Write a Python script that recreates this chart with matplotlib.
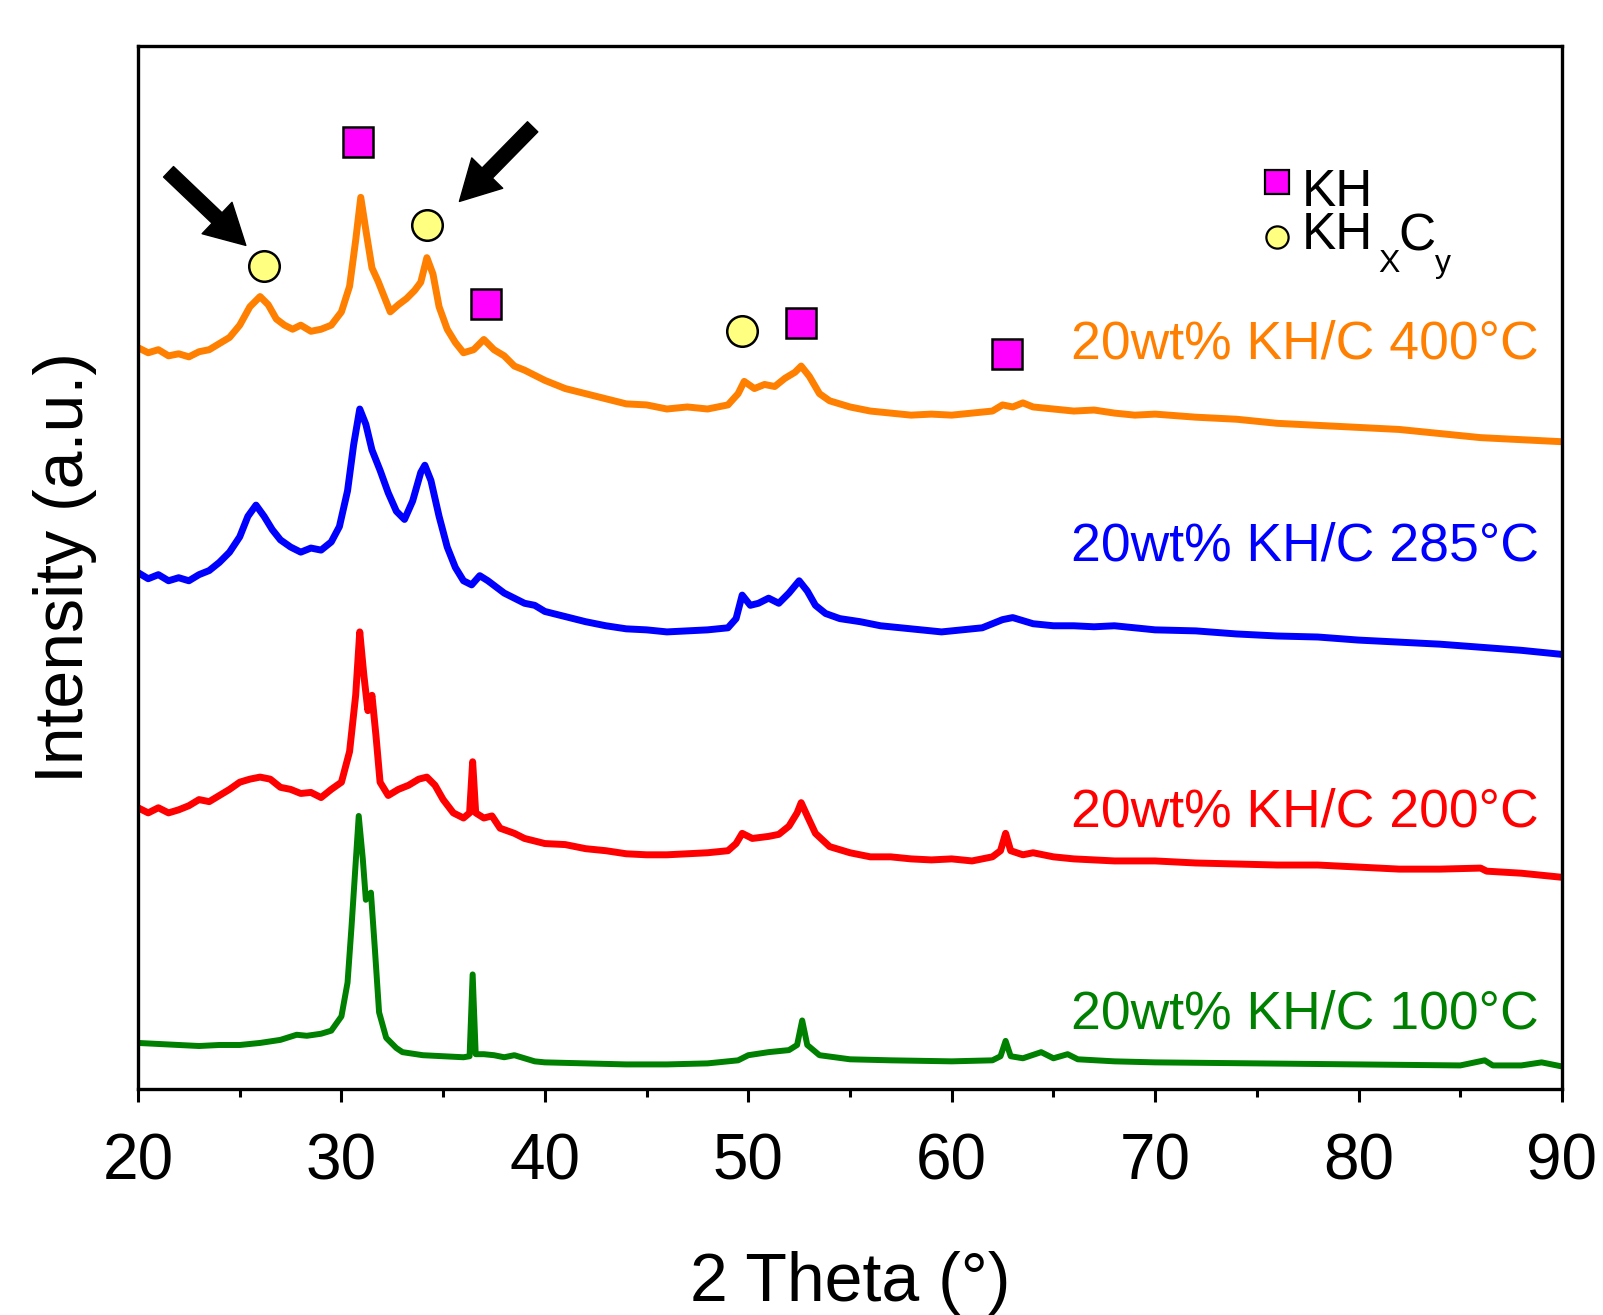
import matplotlib
matplotlib.use("Agg")
import matplotlib.pyplot as plt

plt.rcParams['font.family'] = ['Liberation Sans', 'DejaVu Sans']

# ---- data (2 Theta in degrees, intensity in arbitrary units incl. offset) ----
x_400 = [20, 20.5, 21, 21.5, 22, 22.5, 23, 23.5, 24, 24.5, 25, 25.5, 26.0, 26.4, 26.8, 27.2, 27.6, 28, 28.5, 29,
         29.5, 30, 30.4, 30.7, 30.95, 31.2, 31.5, 31.8, 32.1, 32.4, 32.8, 33.2, 33.6, 33.9, 34.2, 34.5, 34.8, 35.2,
         35.6, 36, 36.5, 37, 37.5, 38, 38.5, 39, 40, 41, 42, 43, 44, 45, 46, 47, 48, 49, 49.5, 49.8, 50.3, 50.8,
         51.3, 51.8, 52.3, 52.6, 53, 53.5, 54, 55, 56, 57, 58, 59, 60, 61, 62, 62.5, 63, 63.5, 64, 65, 66, 67, 68,
         69, 70, 72, 74, 76, 78, 80, 82, 84, 86, 88, 90]
y_400 = [725, 720, 723, 717, 719, 716, 721, 723, 729, 735, 747, 765, 775, 767, 753, 747, 743, 747, 741, 743,
         747, 760, 785, 830, 872, 840, 803, 790, 775, 760, 767, 773, 781, 789, 813, 797, 765, 743,
         730, 720, 723, 733, 723, 717, 707, 703, 693, 685, 680, 675, 670, 669, 665, 667, 665, 669, 680, 692, 685, 689,
         687, 695, 701, 707, 697, 680, 673, 667, 663, 661, 659, 660, 659, 661, 663, 669, 667, 671, 667, 665, 663, 664, 661,
         659, 660, 657, 655, 651, 649, 647, 645, 641, 637, 635, 633]

x_285 = [20, 20.5, 21, 21.5, 22, 22.5, 23, 23.5, 24, 24.5, 25, 25.4, 25.8, 26.2, 26.6, 27, 27.5, 28, 28.5, 29,
         29.5, 29.9, 30.3, 30.6, 30.9, 31.2, 31.5, 31.9, 32.3, 32.7, 33.1, 33.5, 33.9, 34.1, 34.4, 34.8, 35.2, 35.6,
         36, 36.4, 36.8, 37.2, 37.6, 38, 38.5, 39, 39.5, 40, 41, 42, 43, 44, 45, 46, 47, 48, 49, 49.4, 49.7, 50.1,
         50.5, 51, 51.5, 52, 52.5, 52.9, 53.3, 53.8, 54.5, 55.5, 56.5, 57.5, 58.5, 59.5, 60.5, 61.5, 62.5, 63, 64,
         65, 66, 67, 68, 69, 70, 72, 74, 76, 78, 80, 82, 84, 86, 88, 90]
y_285 = [505, 499, 503, 497, 500, 497, 503, 507, 515, 525, 540, 560, 571, 560, 547, 537, 530, 525, 529, 527,
         535, 550, 585, 630, 665, 650, 625, 605, 583, 565, 557, 575, 603, 610, 595, 560, 530, 510,
         497, 493, 502, 497, 491, 485, 480, 475, 473, 467, 462, 457, 453, 450, 449, 447, 448, 449, 451, 460, 483, 473,
         475, 480, 475, 485, 497, 487, 473, 465, 460, 457, 453, 451, 449, 447, 449, 451, 459, 461, 455,
         453, 453, 452, 453, 451, 449, 448, 445, 443, 442, 439, 437, 435, 432, 429, 425]

x_200 = [20, 20.5, 21, 21.5, 22, 22.5, 23, 23.5, 24, 24.5, 25, 25.5, 26, 26.5, 27, 27.5, 28, 28.5, 29, 29.5,
         30, 30.4, 30.7, 30.9, 31.1, 31.3, 31.5, 31.7, 31.9, 32.3, 32.8, 33.3, 33.8, 34.2, 34.6, 35, 35.5, 36,
         36.3, 36.45, 36.6, 37, 37.4, 37.8, 38.5, 39, 40, 41, 42, 43, 44, 45, 46, 47, 48, 49, 49.4, 49.7, 50.2,
         51, 51.5, 52, 52.4, 52.6, 52.9, 53.3, 54, 55, 56, 57, 58, 59, 60, 61, 62, 62.4, 62.65, 62.9, 63.5, 64,
         65, 66, 68, 70, 72, 74, 76, 78, 80, 82, 84, 86, 86.3, 88, 90]
y_200 = [275, 270, 275, 270, 273, 277, 283, 281, 287, 293, 300, 303, 305, 303, 295, 293, 289, 290, 285, 293,
         300, 330, 385, 447, 405, 370, 385, 345, 300, 287, 293, 297, 303, 305, 297, 283, 270, 265,
         270, 320, 270, 265, 267, 255, 250, 245, 240, 239, 235, 233, 230, 229, 229, 230, 231, 233, 240, 250, 245,
         247, 249, 257, 270, 280, 267, 250, 237, 231, 227, 227, 225, 224, 225, 223, 227, 233, 250, 233, 229, 231,
         227, 225, 223, 223, 221, 220, 219, 219, 217, 215, 215, 216, 213, 211, 207]

x_100 = [20, 21, 22, 23, 24, 25, 26, 27, 27.8, 28.3, 29, 29.5, 30.0, 30.3, 30.5, 30.85, 31.05, 31.2, 31.45,
         31.65, 31.85, 32.2, 32.7, 33, 34, 35, 36, 36.3, 36.45, 36.6, 37, 37.5, 38, 38.5, 39, 39.5, 40, 42, 44, 46,
         48, 49.5, 50, 51, 52, 52.4, 52.65, 52.9, 53.5, 55, 57, 60, 62, 62.4, 62.65, 62.9, 63.5, 64.4, 65, 65.7,
         66.2, 68, 70, 75, 80, 85, 86.2, 86.6, 88, 89, 90]
y_100 = [45, 44, 43, 42, 43, 43, 45, 48, 53, 52, 54, 57, 71, 104, 160, 267, 225, 185, 192,
         135, 75, 50, 40, 36, 33, 32, 31, 32, 112, 34, 34, 33, 31, 33, 30, 27, 26, 25, 24, 24,
         25, 28, 33, 36, 38, 43, 67, 43, 33, 29, 28, 27, 28, 32, 47, 32, 30, 36, 30, 34,
         29, 27, 26, 25, 24, 23, 28, 23, 23, 26, 22]

series_labels = ["20wt% KH/C 400°C", "20wt% KH/C 285°C", "20wt% KH/C 200°C", "20wt% KH/C 100°C"]
series_colors = ["#FF7F00", "#0000FF", "#FF0000", "#008000"]
label_y = [728, 531, 270, 73]

# phase markers
kh_x = [30.8, 37.1, 52.6, 62.7]
kh_y = [926, 768, 749, 719]
khxcy_x = [26.2, 34.2, 49.7]
khxcy_y = [805, 845, 741]

# arrows (tail -> head)
arrow_tails = [(21.5, 897), (39.4, 941)]
arrow_heads = [(25.3, 825), (35.8, 868)]

xticks = [20, 30, 40, 50, 60, 70, 80, 90]
minor_xticks = [25, 35, 45, 55, 65, 75, 85]

# ---- figure ----
fig = plt.figure(figsize=(16.03, 13.15), dpi=100)
ax = fig.add_axes([0.0861, 0.1719, 0.8883, 0.7931])

xs = [x_400, x_285, x_200, x_100]
ys = [y_400, y_285, y_200, y_100]
lws = [5.0, 5.0, 5.0, 4.3]
for xv, yv, c, lw in zip(xs, ys, series_colors, lws):
    ax.plot(xv, yv, color=c, lw=lw, solid_joinstyle='round')

for lab, c, yy in zip(series_labels, series_colors, label_y):
    ax.text(88.85, yy, lab, color=c, fontsize=38.5, ha='right', va='center')

ax.plot(kh_x, kh_y, ls='none', marker='s', ms=21, mfc='#FF00FF', mec='black', mew=1.8)
ax.plot(khxcy_x, khxcy_y, ls='none', marker='o', ms=22, mfc='#FFFF80', mec='black', mew=1.8)

# legend-like annotation
leg_fs = 37
ax.plot([76.0], [887], ls='none', marker='s', ms=17, mfc='#FF00FF', mec='black', mew=1.6)
ax.plot([76.0], [833], ls='none', marker='o', ms=16, mfc='#FFFF80', mec='black', mew=1.6)
ax.annotate("KH\nKH", xy=(77.2, 864), xytext=(0, 0.73 * leg_fs), textcoords='offset points',
            fontsize=leg_fs, ha='left', va='top', linespacing=0.85, color='black')
ax.text(80.95, 799, "X", fontsize=23, ha='left', va='baseline', color='black')
ax.text(81.95, 820, "C", fontsize=leg_fs, ha='left', va='baseline', color='black')
ax.text(83.75, 799, "y", fontsize=23, ha='left', va='baseline', color='black')

for t, h in zip(arrow_tails, arrow_heads):
    ax.annotate("", xy=h, xytext=t,
                arrowprops=dict(arrowstyle="simple,head_length=1.1,head_width=1.2,tail_width=0.4",
                                mutation_scale=26, fc='black', ec='black', shrinkA=0, shrinkB=0))

ax.set_xlim(20, 90)
ax.set_ylim(0, 1020)
ax.set_xticks(xticks)
ax.set_xticks(minor_xticks, minor=True)
ax.set_yticks([])
ax.tick_params(axis='x', which='major', direction='out', length=9, width=2.2, labelsize=46, pad=22)
ax.tick_params(axis='x', which='minor', direction='out', length=6, width=2.2)
for s in ax.spines.values():
    s.set_linewidth(2.4)

ax.set_xlabel("2 Theta (°)", fontsize=49)
ax.xaxis.set_label_coords(0.5, -0.1555)
ax.set_ylabel("Intensity (a.u.)", fontsize=49)
ax.yaxis.set_label_coords(-0.029, 0.5)

fig.savefig("out.png", dpi=100)
